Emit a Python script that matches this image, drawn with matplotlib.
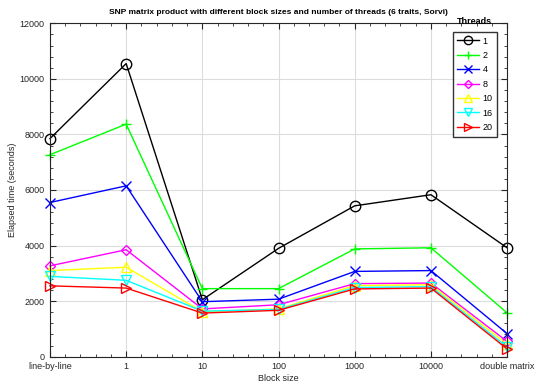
import matplotlib
matplotlib.use("Agg")
import matplotlib.pyplot as plt
from matplotlib.ticker import AutoMinorLocator

plt.rcParams['font.family'] = ['Liberation Sans', 'DejaVu Sans']

# Block sizes (categories on the x axis)
block_sizes = ["line-by-line", "1", "10", "100", "1000", "10000", "double matrix"]

# Elapsed time (seconds) per number of threads
threads_1 = [7850, 10550, 2050, 3900, 5430, 5830, 3920]
threads_2 = [7270, 8370, 2450, 2450, 3880, 3920, 1580]
threads_4 = [5550, 6150, 1980, 2070, 3070, 3100, 830]
threads_8 = [3270, 3850, 1720, 1870, 2630, 2650, 550]
threads_10 = [3100, 3220, 1620, 1720, 2560, 2590, 450]
threads_16 = [2890, 2750, 1640, 1700, 2490, 2520, 350]
threads_20 = [2550, 2470, 1570, 1670, 2440, 2470, 280]

series = [
    ("1", threads_1, "k", "o"),
    ("2", threads_2, "#00ff00", "+"),
    ("4", threads_4, "#0000ff", "x"),
    ("8", threads_8, "#ff00ff", "D"),
    ("10", threads_10, "#ffff00", "^"),
    ("16", threads_16, "#00ffff", "v"),
    ("20", threads_20, "#ff0000", ">"),
]

fig = plt.figure(figsize=(5.34, 3.85), dpi=100)
ax = fig.add_axes([0.0936, 0.0735, 0.856, 0.866])

x = list(range(len(block_sizes)))
for label, vals, color, marker in series:
    ms = 5 if marker == "D" else 7.5
    ax.plot(x, vals, color=color, marker=marker, markersize=ms, linewidth=1.0,
            markerfacecolor="none", markeredgewidth=1.0, label=label, clip_on=False)

ax.set_xlim(0, len(block_sizes) - 1)
ax.set_ylim(0, 12000)
ax.set_xticks(x)
ax.set_xticklabels(block_sizes)
ax.set_yticks(range(0, 12001, 2000))
ax.xaxis.set_minor_locator(AutoMinorLocator(5))
ax.yaxis.set_minor_locator(AutoMinorLocator(5))
ax.tick_params(which="both", direction="in", top=True, right=True,
               labelsize=6.5, colors="#262626", pad=4)
ax.tick_params(which="major", length=4)
ax.tick_params(which="minor", length=2)
ax.grid(True, color="#dcdcdc", linewidth=0.8)
ax.set_axisbelow(True)
for s in ax.spines.values():
    s.set_color("#262626")
    s.set_linewidth(0.8)

ax.set_xlabel("Block size", fontsize=6.5, color="#262626", labelpad=2)
ax.set_ylabel("Elapsed time (seconds)", fontsize=6.5, color="#262626", labelpad=2)
ax.set_title("SNP matrix product with different block sizes and number of threads (6 traits, Sorvi)",
             fontsize=6, fontweight="bold", pad=7)

leg = ax.legend(loc="upper right", bbox_to_anchor=(497 / 534, 1 - 32 / 385),
                bbox_transform=fig.transFigure, borderaxespad=0, fontsize=6.5,
                frameon=True, fancybox=False, handlelength=2.4, handletextpad=0.4,
                labelspacing=0.6, borderpad=0.5, markerscale=0.8)
leg.get_frame().set_edgecolor("k")
leg.get_frame().set_linewidth(1.0)

fig.text(474 / 534, 1 - 22 / 385, "Threads", ha="center", va="center",
         fontsize=6.5, fontweight="bold")

fig.savefig("out.png", dpi=100)
